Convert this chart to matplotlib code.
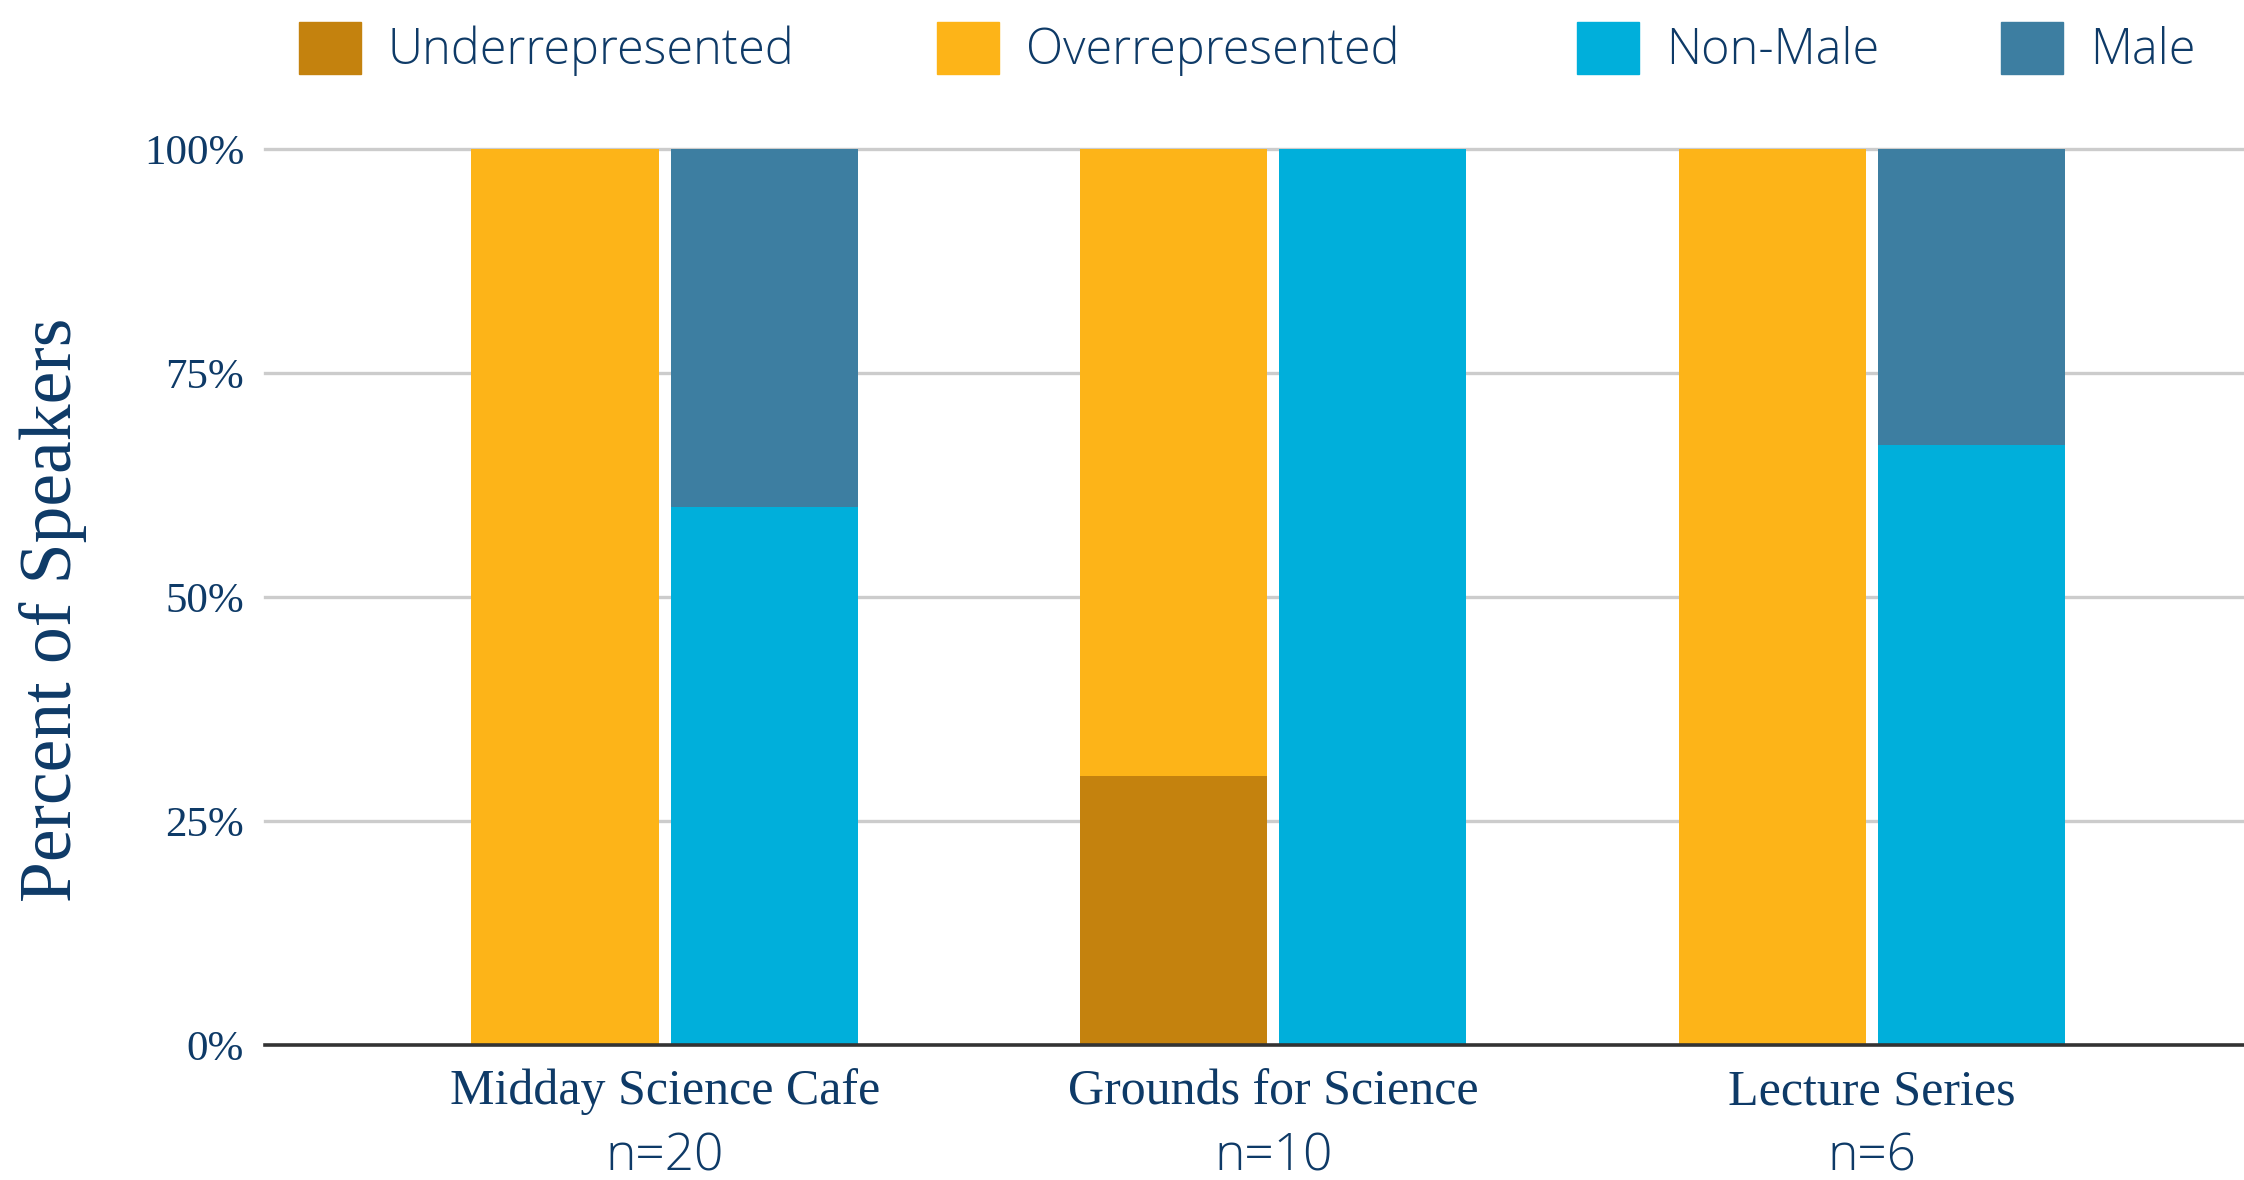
import matplotlib
matplotlib.use("Agg")
import matplotlib.pyplot as plt
import matplotlib.transforms as mtransforms
from matplotlib.patches import Patch
import numpy as np

# ---- data ----
categories = ["Midday Science Cafe", "Grounds for Science", "Lecture Series"]
sample_sizes = ["n=20", "n=10", "n=6"]
series_names = ["Underrepresented", "Overrepresented", "Non-Male", "Male"]
underrepresented = [0, 30, 0]
overrepresented = [100, 70, 100]
non_male = [60, 100, 67]
male = [40, 0, 33]
y_ticks = [0, 25, 50, 75, 100]
y_tick_labels = ["0%", "25%", "50%", "75%", "100%"]

# ---- style ----
C_UNDER = "#C4820E"
C_OVER = "#FDB418"
C_NONMALE = "#00AFDB"
C_MALE = "#3D7EA1"
TEXT = "#0E3A67"
SERIF = ["Liberation Serif", "DejaVu Serif"]
SANS = ["Open Sans", "DejaVu Sans"]

fig = plt.figure(figsize=(22.44, 11.8), dpi=100)
ax = fig.add_axes([265 / 2244, 1 - 1045 / 1180, 1 - 265 / 2244, (1045 - 149) / 1180])

# group centres (layout), slightly uneven as in the reference
x = np.array([0.0, 1.008, 2.0])
w = 0.31
off = 0.165

ax.bar(x - off, underrepresented, w, color=C_UNDER, zorder=3)
ax.bar(x - off, overrepresented, w, bottom=underrepresented, color=C_OVER, zorder=3)
ax.bar(x + off, non_male, w, color=C_NONMALE, zorder=3)
ax.bar(x + off, male, w, bottom=non_male, color=C_MALE, zorder=3)

ax.set_xlim(-0.662, 2.616)
ax.set_ylim(0, 100)

for t in y_ticks[1:]:
    ax.axhline(t, color="#CCCCCC", lw=2.4, zorder=1, clip_on=False)
ax.axhline(0, color="#333333", lw=2.6, zorder=4, clip_on=False)

for s in ax.spines.values():
    s.set_visible(False)

ax.set_yticks(y_ticks)
ax.set_yticklabels(y_tick_labels, family=SERIF, fontsize=31, color=TEXT)
ax.tick_params(axis="y", length=0, pad=15)
ax.set_xticks([])

trans = mtransforms.blended_transform_factory(ax.transData, fig.transFigure)
for xi, cat, n in zip(x, categories, sample_sizes):
    ax.text(xi, 1 - 1092 / 1180, cat, transform=trans, ha="center", va="center",
            family=SERIF, fontsize=36, color=TEXT)
    ax.text(xi, 1 - 1157 / 1180, n, transform=trans, ha="center", va="center",
            family=SANS, fontsize=37, weight="light", color=TEXT)

fig.text(53 / 2244, 1 - 610 / 1180, "Percent of Speakers", rotation=90,
         ha="center", va="center", family=SERIF, fontsize=53, color=TEXT)

colors = [C_UNDER, C_OVER, C_NONMALE, C_MALE]
legend_left_px = [299, 937, 1577, 2001]
for name, col, lx in zip(series_names, colors, legend_left_px):
    leg = fig.legend(handles=[Patch(color=col, label=name)], loc="center left",
                     bbox_to_anchor=(lx / 2244, 1 - 49 / 1180),
                     frameon=False, handlelength=1.28, handleheight=1.28,
                     handletextpad=0.55, borderpad=0, borderaxespad=0,
                     prop={"family": SANS, "size": 35, "weight": "light"})
    for t in leg.get_texts():
        t.set_color(TEXT)

fig.savefig("out.png", dpi=100, facecolor="white")
